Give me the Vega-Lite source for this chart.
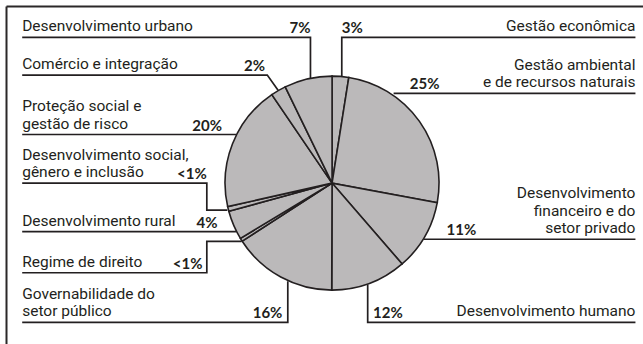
{
  "$schema": "https://vega.github.io/schema/vega-lite/v6.json",
  "autosize": "none",
  "width": 637,
  "height": 338,
  "padding": {"left": 6, "top": 6, "right": 0, "bottom": 0},
  "background": "white",
  "config": {
    "view": {"stroke": null},
    "axis": {"domainColor": "#2b2829", "domainWidth": 2, "ticks": false, "labels": false, "grid": false, "title": null},
    "text": {"font": "Roboto", "fontSize": 15.5, "color": "#231f20", "lineHeight": 17.5, "baseline": "alphabetic"}
  },
  "datasets": {
    "slices": [
      {"category": "Gestão econômica", "rank": 1, "value": 2.5, "pct": "3%", "label": ["Gestão econômica"], "side": "right", "pctX": 9},
      {"category": "Gestão ambiental e de recursos naturais", "rank": 2, "value": 25.4, "pct": "25%", "label": ["Gestão ambiental", "e de recursos naturais"], "side": "right", "pctX": 72},
      {"category": "Desenvolvimento financeiro e do setor privado", "rank": 3, "value": 10.7, "pct": "11%", "label": ["Desenvolvimento", "financeiro e do", "setor privado"], "side": "right", "pctX": 106},
      {"category": "Desenvolvimento humano", "rank": 4, "value": 11.4, "pct": "12%", "label": ["Desenvolvimento humano"], "side": "right", "pctX": 38},
      {"category": "Governabilidade do setor público", "rank": 5, "value": 15.8, "pct": "16%", "label": ["Governabilidade do", "setor público"], "side": "left", "pctX": -46},
      {"category": "Regime de direito", "rank": 6, "value": 0.5, "pct": "<1%", "label": ["Regime de direito"], "side": "left", "pctX": -120},
      {"category": "Desenvolvimento rural", "rank": 7, "value": 4.4, "pct": "4%", "label": ["Desenvolvimento rural"], "side": "left", "pctX": -106},
      {"category": "Desenvolvimento social, gênero e inclusão", "rank": 8, "value": 0.7, "pct": "<1%", "label": ["Desenvolvimento social,", "gênero e inclusão"], "side": "left", "pctX": -116},
      {"category": "Proteção social e gestão de risco", "rank": 9, "value": 19.0, "pct": "20%", "label": ["Proteção social e", "gestão de risco"], "side": "left", "pctX": -102},
      {"category": "Comércio e integração", "rank": 10, "value": 2.3, "pct": "2%", "label": ["Comércio e integração"], "side": "left", "pctX": -62},
      {"category": "Desenvolvimento urbano", "rank": 11, "value": 7.2, "pct": "7%", "label": ["Desenvolvimento urbano"], "side": "left", "pctX": -20}
    ],
    "leaders": [
      {"category": "Gestão econômica", "i": 0, "x": 281, "y": 135},
      {"category": "Gestão econômica", "i": 1, "x": 9, "y": 135},
      {"category": "Gestão econômica", "i": 2, "x": 9, "y": 99},
      {"category": "Gestão ambiental e de recursos naturais", "i": 0, "x": 281, "y": 83},
      {"category": "Gestão ambiental e de recursos naturais", "i": 1, "x": 57, "y": 83},
      {"category": "Desenvolvimento financeiro e do setor privado", "i": 0, "x": 281, "y": -52},
      {"category": "Desenvolvimento financeiro e do setor privado", "i": 1, "x": 85, "y": -52},
      {"category": "Desenvolvimento humano", "i": 0, "x": 281, "y": -129},
      {"category": "Desenvolvimento humano", "i": 1, "x": 33, "y": -129},
      {"category": "Desenvolvimento humano", "i": 2, "x": 33, "y": -94},
      {"category": "Governabilidade do setor público", "i": 0, "x": -287, "y": -129},
      {"category": "Governabilidade do setor público", "i": 1, "x": -41, "y": -129},
      {"category": "Governabilidade do setor público", "i": 2, "x": -41, "y": -91},
      {"category": "Regime de direito", "i": 0, "x": -287, "y": -83},
      {"category": "Regime de direito", "i": 1, "x": -116, "y": -83},
      {"category": "Regime de direito", "i": 2, "x": -116, "y": -54},
      {"category": "Regime de direito", "i": 3, "x": -84, "y": -54},
      {"category": "Desenvolvimento rural", "i": 0, "x": -287, "y": -45},
      {"category": "Desenvolvimento rural", "i": 1, "x": -89, "y": -45},
      {"category": "Desenvolvimento social, gênero e inclusão", "i": 0, "x": -287, "y": 0},
      {"category": "Desenvolvimento social, gênero e inclusão", "i": 1, "x": -116, "y": 0},
      {"category": "Desenvolvimento social, gênero e inclusão", "i": 2, "x": -116, "y": -25},
      {"category": "Desenvolvimento social, gênero e inclusão", "i": 3, "x": -97, "y": -25},
      {"category": "Proteção social e gestão de risco", "i": 0, "x": -287, "y": 45},
      {"category": "Proteção social e gestão de risco", "i": 1, "x": -89, "y": 45},
      {"category": "Comércio e integração", "i": 0, "x": -287, "y": 100},
      {"category": "Comércio e integração", "i": 1, "x": -60, "y": 100},
      {"category": "Comércio e integração", "i": 2, "x": -50, "y": 86},
      {"category": "Desenvolvimento urbano", "i": 0, "x": -287, "y": 135},
      {"category": "Desenvolvimento urbano", "i": 1, "x": -20, "y": 135},
      {"category": "Desenvolvimento urbano", "i": 2, "x": -20, "y": 97}
    ]
  },
  "layer": [
    {
      "data": {"name": "slices"},
      "mark": {"type": "arc", "outerRadius": 107, "fill": "#bbb9ba", "stroke": "#231f20", "strokeWidth": 1.6},
      "encoding": {
        "x": {"datum": 0, "type": "quantitative", "scale": {"domain": [-302, 288], "nice": false, "zero": false}, "axis": {"orient": "top"}},
        "y": {"datum": 0, "type": "quantitative", "scale": {"domain": [-149, 164], "nice": false, "zero": false}, "axis": {"orient": "left"}},
        "theta": {"field": "value", "type": "quantitative", "stack": true},
        "order": {"field": "rank", "type": "quantitative"}
      }
    },
    {
      "data": {"name": "leaders"},
      "mark": {"type": "line", "stroke": "#231f20", "strokeWidth": 1.7, "strokeJoin": "miter", "strokeCap": "butt"},
      "encoding": {
        "x": {"field": "x", "type": "quantitative"},
        "y": {"field": "y", "type": "quantitative"},
        "detail": {"field": "category"},
        "order": {"field": "i", "type": "quantitative"}
      }
    },
    {
      "data": {"name": "leaders"},
      "transform": [
        {"filter": "datum.i == 0"},
        {"lookup": "category", "from": {"data": {"name": "slices"}, "key": "category", "fields": ["label", "side"]}},
        {"filter": "datum.side == 'left' && length(datum.label) == 1"}
      ],
      "mark": {"type": "text", "align": "left", "dy": -6},
      "encoding": {
        "x": {"field": "x", "type": "quantitative"},
        "y": {"field": "y", "type": "quantitative"},
        "text": {"field": "label"}
      }
    },
    {
      "data": {"name": "leaders"},
      "transform": [
        {"filter": "datum.i == 0"},
        {"lookup": "category", "from": {"data": {"name": "slices"}, "key": "category", "fields": ["label", "side"]}},
        {"filter": "datum.side == 'left' && length(datum.label) == 2"}
      ],
      "mark": {"type": "text", "align": "left", "dy": -23.5},
      "encoding": {
        "x": {"field": "x", "type": "quantitative"},
        "y": {"field": "y", "type": "quantitative"},
        "text": {"field": "label"}
      }
    },
    {
      "data": {"name": "leaders"},
      "transform": [
        {"filter": "datum.i == 0"},
        {"lookup": "category", "from": {"data": {"name": "slices"}, "key": "category", "fields": ["label", "side"]}},
        {"filter": "datum.side == 'right' && length(datum.label) == 1"}
      ],
      "mark": {"type": "text", "align": "right", "dy": -6},
      "encoding": {
        "x": {"field": "x", "type": "quantitative"},
        "y": {"field": "y", "type": "quantitative"},
        "text": {"field": "label"}
      }
    },
    {
      "data": {"name": "leaders"},
      "transform": [
        {"filter": "datum.i == 0"},
        {"lookup": "category", "from": {"data": {"name": "slices"}, "key": "category", "fields": ["label", "side"]}},
        {"filter": "datum.side == 'right' && length(datum.label) == 2"}
      ],
      "mark": {"type": "text", "align": "right", "dy": -23.5},
      "encoding": {
        "x": {"field": "x", "type": "quantitative"},
        "y": {"field": "y", "type": "quantitative"},
        "text": {"field": "label"}
      }
    },
    {
      "data": {"name": "leaders"},
      "transform": [
        {"filter": "datum.i == 0"},
        {"lookup": "category", "from": {"data": {"name": "slices"}, "key": "category", "fields": ["label", "side"]}},
        {"filter": "datum.side == 'right' && length(datum.label) == 3"}
      ],
      "mark": {"type": "text", "align": "right", "dy": -41},
      "encoding": {
        "x": {"field": "x", "type": "quantitative"},
        "y": {"field": "y", "type": "quantitative"},
        "text": {"field": "label"}
      }
    },
    {
      "data": {"name": "leaders"},
      "transform": [
        {"filter": "datum.i == 0"},
        {"lookup": "category", "from": {"data": {"name": "slices"}, "key": "category", "fields": ["pct", "side", "pctX"]}},
        {"filter": "datum.side == 'left'"}
      ],
      "mark": {"type": "text", "align": "right", "dy": -4, "font": "Lato", "fontWeight": "bold", "fontSize": 15},
      "encoding": {
        "x": {"field": "pctX", "type": "quantitative"},
        "y": {"field": "y", "type": "quantitative"},
        "text": {"field": "pct"}
      }
    },
    {
      "data": {"name": "leaders"},
      "transform": [
        {"filter": "datum.i == 0"},
        {"lookup": "category", "from": {"data": {"name": "slices"}, "key": "category", "fields": ["pct", "side", "pctX"]}},
        {"filter": "datum.side == 'right'"}
      ],
      "mark": {"type": "text", "align": "left", "dy": -4, "font": "Lato", "fontWeight": "bold", "fontSize": 15},
      "encoding": {
        "x": {"field": "pctX", "type": "quantitative"},
        "y": {"field": "y", "type": "quantitative"},
        "text": {"field": "pct"}
      }
    }
  ]
}
